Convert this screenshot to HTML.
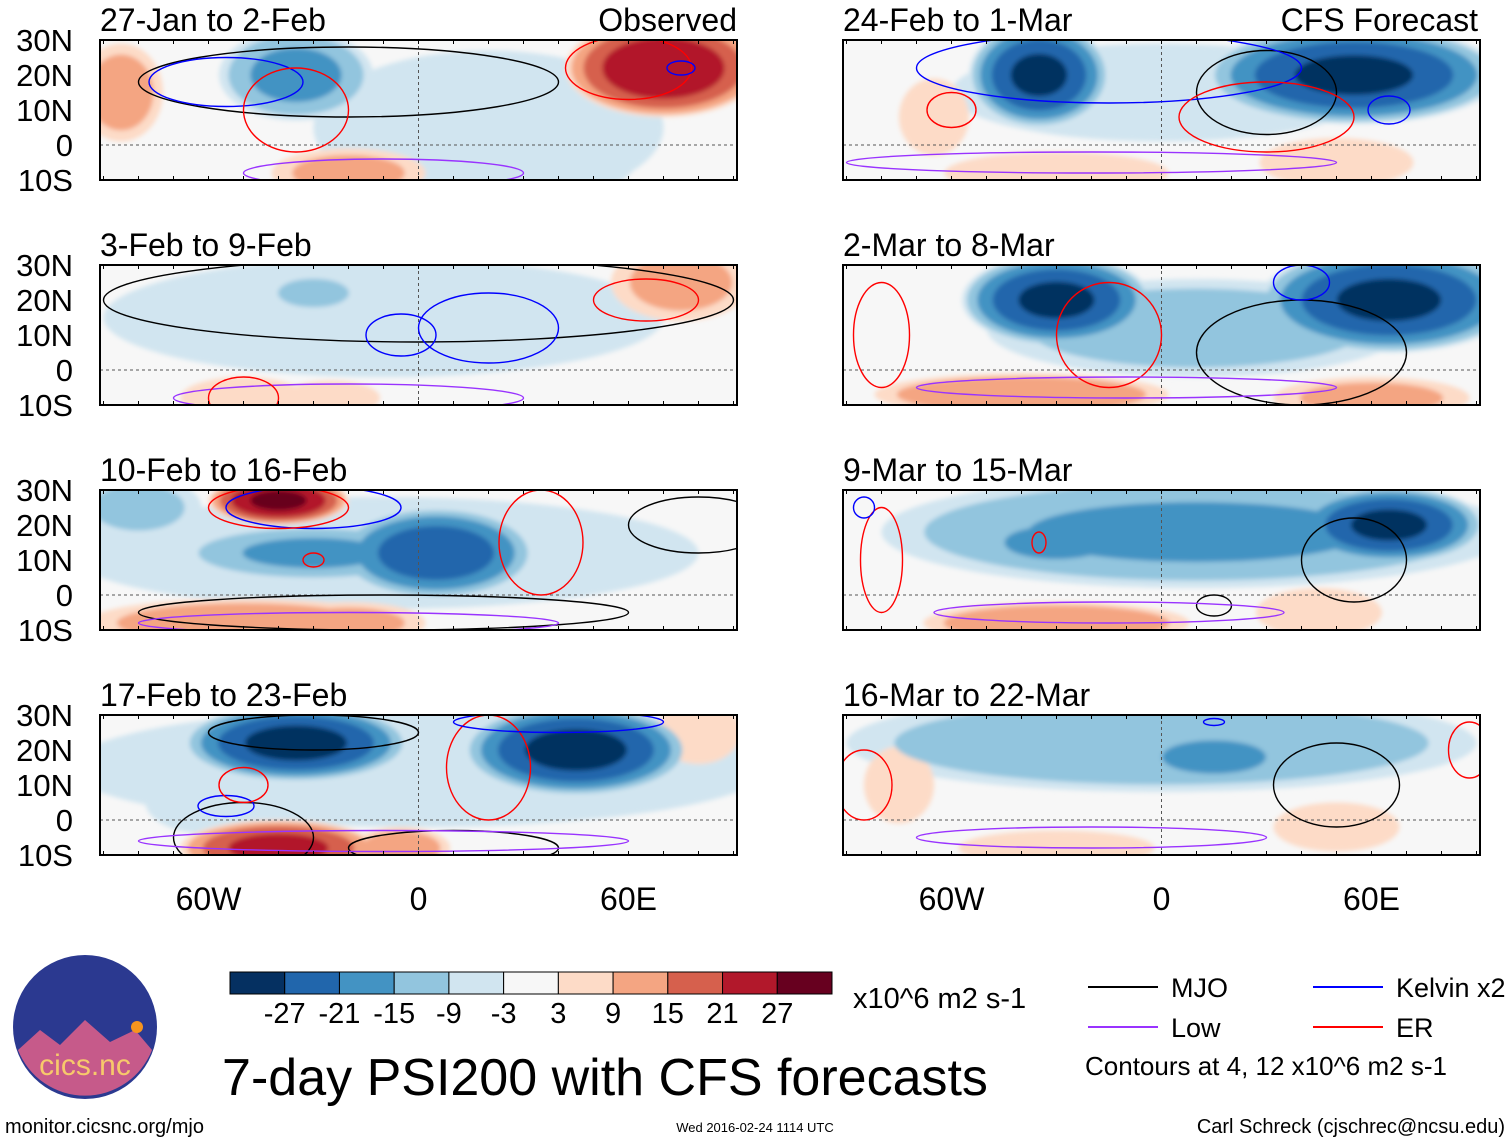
<!DOCTYPE html>
<html><head><meta charset="utf-8"><style>
body{margin:0;background:#fff;width:1510px;height:1142px;overflow:hidden}
svg{display:block;font-family:"Liberation Sans",Arial,sans-serif}
</style></head><body>
<svg id="s" width="1510" height="1142"></svg>
<script>
const panelTitles=["27-Jan to 2-Feb","3-Feb to 9-Feb","10-Feb to 16-Feb","17-Feb to 23-Feb","24-Feb to 1-Mar","2-Mar to 8-Mar","9-Mar to 15-Mar","16-Mar to 22-Mar"];
// anomaly blobs: [lon, lat, rxDeg, ryDeg, peak value]
const blobs0=[[20,5,50,22,-8],[-35,20,22,13,-17],[-85,15,12,14,12],[-20,-8,22,7,11],[40,-5,22,9,-8],[70,22,28,14,26]];
const blobs1=[[-10,15,80,17,-7],[-30,22,15,6,-10],[75,25,20,11,11],[-50,-8,18,6,9],[-25,-8,14,5,7]];
const blobs2=[[-10,12,90,16,-7],[-80,25,18,9,-11],[-30,12,38,8,-16],[5,12,28,13,-25],[-50,-8,45,7,13],[-20,-8,22,6,11],[-40,27,20,7,28]];
const blobs3=[[0,15,100,17,-7],[-60,5,18,9,-9],[-35,22,32,11,-29],[45,20,32,13,-29],[-40,-8,28,8,23],[-5,-8,14,6,13],[80,25,12,9,9]];
const blobs4=[[0,15,60,14,-7],[-35,20,20,15,-28],[55,20,42,14,-28],[-65,8,10,11,9],[-30,-8,32,6,9],[50,-5,22,7,7]];
const blobs5=[[10,12,60,14,-13],[-30,20,27,13,-28],[65,20,37,15,-28],[-40,-7,42,6,15],[60,-8,28,6,11]];
const blobs6=[[10,18,90,16,-16],[-30,15,22,7,-19],[65,20,27,11,-28],[-30,-8,38,6,15],[45,-5,18,7,7]];
const blobs7=[[0,22,90,14,-15],[15,18,22,7,-19],[-75,10,10,11,9],[-30,-8,28,5,9],[50,-2,18,7,7]];
const allBlobs=[blobs0,blobs1,blobs2,blobs3,blobs4,blobs5,blobs6,blobs7];
// contours: [type, lon, lat, rxDeg, ryDeg]
const contours=[
 [["k",-20,18,60,10],["b",-55,18,22,7],["r",-35,10,15,12],["r",60,22,18,9],["p",-10,-8,40,4],["b",75,22,4,2]],
 [["k",0,20,90,12],["b",-5,10,10,6],["b",20,12,20,10],["r",65,20,15,6],["p",-20,-8,50,4],["r",-50,-8,10,6]],
 [["k",-10,-5,70,5],["b",-30,25,25,6],["r",-40,25,20,6],["r",35,15,12,15],["r",-30,10,3,2],["p",-20,-8,60,3],["k",80,20,20,8]],
 [["k",-30,25,30,5],["k",-50,-5,20,10],["k",10,-8,30,5],["b",-55,4,8,3],["r",-50,10,7,5],["r",20,15,12,15],["b",40,28,30,3],["p",-10,-6,70,3]],
 [["k",30,15,20,12],["b",-15,22,55,10],["r",-60,10,7,5],["r",30,8,25,10],["b",65,10,6,4],["p",-20,-5,70,3]],
 [["k",40,5,30,15],["r",-80,10,8,15],["r",-15,10,15,15],["b",40,25,8,5],["p",-10,-5,60,3]],
 [["k",55,10,15,12],["r",-80,10,6,15],["b",-85,25,3,3],["r",-35,15,2,3],["k",15,-3,5,3],["p",-15,-5,50,3]],
 [["k",50,10,18,12],["r",-85,10,8,10],["r",88,20,6,8],["b",15,28,3,1],["p",-20,-5,50,3]]];
const ticks=["60W","0","60E"], tickLon=[-60,0,60];
const latLabels=["30N","20N","10N","0","10S"], latVals=[30,20,10,0,-10];
const cbLabels=["-27","-21","-15","-9","-3","3","9","15","21","27"];
const colors=["#053061","#2166ac","#4393c3","#92c5de","#d1e5f0","#f7f7f7","#fddbc7","#f4a582","#d6604d","#b2182b","#67001f"];
const lineCol={k:"#000",b:"#0000ff",r:"#ff0000",p:"#9933ff"};

const NS="http://www.w3.org/2000/svg", s=document.getElementById('s');
function el(t,a,p){const e=document.createElementNS(NS,t);for(const k in a)e.setAttribute(k,a[k]);(p||s).appendChild(e);return e;}
function txt(x,y,str,size,anchor,p){const e=el('text',{x:x,y:y,'font-size':size,'text-anchor':anchor||'start',fill:'#000'},p);e.textContent=str;return e;}
const defs=el('defs',{});
const f=el('filter',{id:'bl',x:'-20%',y:'-20%',width:'140%',height:'140%'},defs);
el('feGaussianBlur',{stdDeviation:2.5},f);
const thr=[3,9,15,21,27];
const W=637,H=140,pxd=3.5;
for(let i=0;i<8;i++){
  const x0=i<4?100:843, y0=40+(i%4)*225;
  const X=lon=>x0+(lon+91)*pxd, Y=lat=>y0+(30-lat)*pxd;
  const g=el('g',{},s);
  
  
  const cp=el('clipPath',{id:'c'+i},defs);el('rect',{x:x0,y:y0,width:W,height:H},cp);
  const inner=el('g',{'clip-path':'url(#c'+i+')'},g);
  el('rect',{x:x0,y:y0,width:W,height:H,fill:colors[5]},inner);
  const fg=el('g',{filter:'url(#bl)'},inner);
  const rings=[];
  allBlobs[i].forEach(b=>{
    const v=Math.abs(b[4]);
    thr.forEach((t,k)=>{
      if(t>=v)return;
      const sc=Math.sqrt(1-Math.pow((t-3)/(v-1),1.5));
      rings.push({k:k,b:b,sc:sc});
    });
  });
  rings.sort((a,c)=>a.k-c.k);
  rings.forEach(r=>{
    const b=r.b, ci=b[4]<0?4-r.k:6+r.k;
    const e=el('ellipse',{cx:X(b[0]),cy:Y(b[1]),rx:b[2]*pxd*r.sc,ry:b[3]*pxd*r.sc,fill:colors[ci]},fg);
    
    
  });
  el('line',{x1:x0,x2:x0+W,y1:Y(0),y2:Y(0),stroke:'#555','stroke-dasharray':'3,3','stroke-width':1},inner);
  el('line',{x1:X(0),x2:X(0),y1:y0,y2:y0+H,stroke:'#555','stroke-dasharray':'3,3','stroke-width':1},inner);
  contours[i].forEach(c=>{
    const e=el('ellipse',{cx:X(c[1]),cy:Y(c[2]),rx:c[3]*pxd,ry:c[4]*pxd,fill:'none',stroke:lineCol[c[0]],'stroke-width':1.4},inner);
    
    
  });
  el('rect',{x:x0,y:y0,width:W,height:H,fill:'none',stroke:'#000','stroke-width':2},g);
  for(let lo=-90;lo<=90;lo+=10){el('line',{x1:X(lo),x2:X(lo),y1:y0,y2:y0+4,stroke:'#000'},g);el('line',{x1:X(lo),x2:X(lo),y1:y0+H,y2:y0+H-4,stroke:'#000'},g);}
  const t=txt(x0,y0-9,panelTitles[i],32,'start',g);
  
  if(i<4){latVals.forEach((lv,k)=>{const l=txt(73,Y(lv)+11,latLabels[k],31,'end',g);});}
  if(i==0){const l=txt(737,y0-9,"Observed",32,'end',g);}
  if(i==4){const l=txt(1478,y0-9,"CFS Forecast",32,'end',g);}
  if(i%4==3){tickLon.forEach((lo,k)=>{const l=txt(X(lo),910,ticks[k],32,'middle',g);});}
}
// colorbar
const cb=el('g',{},s);
const bw=602/11;
colors.forEach((c,k)=>el('rect',{x:230+k*bw,y:972,width:bw,height:22,fill:c,stroke:'#000','stroke-width':1},cb));
cbLabels.forEach((l,k)=>txt(230+(k+1)*bw,1023,l,29,'middle',cb));
txt(853,1008,"x10^6 m2 s-1",29,'start',cb);
// legend
const lg=el('g',{},s);
[["MJO","#000",1088,987],["Kelvin x2","#0000ff",1313,987],["Low","#9933ff",1088,1027],["ER","#ff0000",1313,1027]].forEach(a=>{
 el('line',{x1:a[2],x2:a[2]+70,y1:a[3],y2:a[3],stroke:a[1],'stroke-width':2},lg);txt(a[2]+83,a[3]+10,a[0],27,'start',lg);});
txt(1085,1075,"Contours at 4, 12 x10^6 m2 s-1",26,'start',lg);
const tt=txt(605,1095,"7-day PSI200 with CFS forecasts",52,'middle');
txt(5,1133,"monitor.cicsnc.org/mjo",20);
txt(755,1132,"Wed 2016-02-24 1114 UTC",13,'middle');
txt(1505,1133,"Carl Schreck (cjschrec@ncsu.edu)",20,'end');
// logo
const lgo=el('g',{},s);
el('circle',{cx:85,cy:1027,r:72,fill:'#2b3990'},lgo);
el('path',{d:'M18,1050 L40,1030 L60,1045 L85,1020 L110,1042 L135,1030 L152,1050 A72,72 0 0 1 18,1050Z',fill:'#c65a8a'},lgo);
el('circle',{cx:137,cy:1027,r:6,fill:'#f7941d'},lgo);
const ct=txt(85,1075,"cics.nc",30,'middle',lgo);ct.setAttribute('fill','#f7c96b');
</script>
</body></html>
